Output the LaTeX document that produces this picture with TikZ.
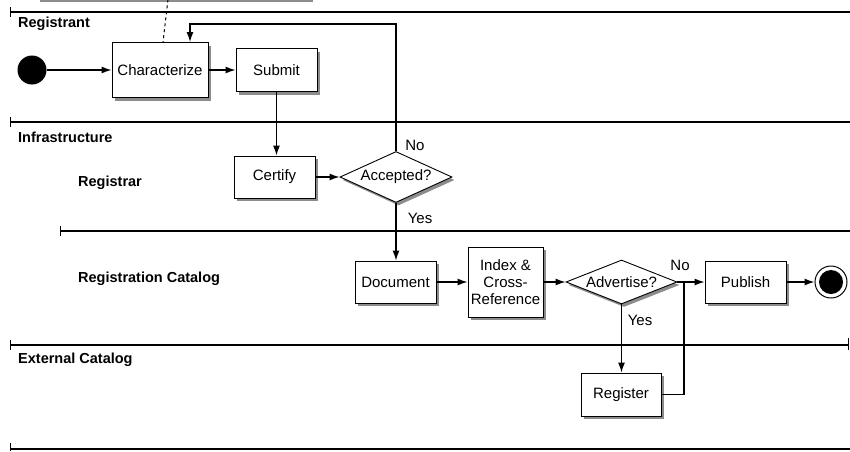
\documentclass[tikz,border=0pt]{standalone}
\usepackage{fontspec}
\setmainfont{Liberation Sans}
\usetikzlibrary{shapes.geometric,arrows.meta,shadows}
\newcommand{\fsn}{\fontsize{15}{17}\selectfont}
\newcommand{\fsb}{\fontsize{14.5}{16.5}\selectfont\bfseries}
\tikzset{
  box/.style={draw=black, line width=0.9pt, fill=white, inner sep=0pt, align=center, font=\fsn,
    drop shadow={shadow xshift=2.5pt, shadow yshift=-3pt, fill=black!45, opacity=1}},
  dec/.style={box, diamond},
  lane/.style={line width=2pt},
  lanetick/.style={line width=1pt},
  lanelbl/.style={font=\fsb, anchor=west, inner sep=0pt},
  guard/.style={font=\fsn, inner sep=0pt},
  flow/.style={line width=1.3pt, -{Latex[length=10pt,width=7pt]}},
  plainflow/.style={line width=1.3pt},
}
\begin{document}
\begin{tikzpicture}[x=1pt,y=-1pt]
\useasboundingbox (0,0) rectangle (850,451);
% swimlane separators
\draw[lane] (10,12) -- (850,12);
\draw[lanetick] (10,7) -- (10,17);
\draw[lane] (10,122) -- (850,122);
\draw[lanetick] (10,117) -- (10,127);
\draw[lane] (60,231) -- (850,231);
\draw[lanetick] (60,226) -- (60,236);
\draw[lane] (10,345) -- (848,345);
\draw[lanetick] (10,340) -- (10,350);
\draw[lanetick] (848,338) -- (848,350);
\draw[lane] (10,449) -- (850,449);
\draw[lanetick] (10,443) -- (10,451);
% lane labels
\node[lanelbl] (l1) at (18,24) {Registrant};
\node[lanelbl] (l2) at (18,137) {Infrastructure};
\node[lanelbl] (l3) at (78,183) {Registrar};
\node[lanelbl] (l4) at (78,279) {Registration Catalog};
\node[lanelbl] (l5) at (18,360) {External Catalog};
% note at top (cut off)
\node[box, minimum width=273pt, minimum height=40pt] (note) at (173.5,-21) {};
% nodes
\node[circle, fill=black, minimum size=29pt, inner sep=0pt] (start) at (32,70) {};
\node[box, minimum width=96pt, minimum height=55pt] (char) at (160,70) {Characterize};
\node[box, minimum width=81pt, minimum height=43pt] (sub) at (276.5,70) {Submit};
\node[box, minimum width=81pt, minimum height=42pt] (cert) at (274.5,177) {Certify};
\node[dec, aspect=2.2, minimum width=112pt, minimum height=51pt] (acc) at (396,177) {Accepted?};
\node[box, minimum width=81pt, minimum height=42pt] (doc) at (395.5,282) {Document};
\node[box, minimum width=75pt, minimum height=70pt] (idx) at (505.5,282) {Index \&\\Cross-\\Reference};
\node[dec, aspect=2.5, minimum width=111pt, minimum height=44pt] (adv) at (621.5,282) {Advertise?};
\node[box, minimum width=81pt, minimum height=42pt] (pub) at (745.5,282) {Publish};
\node[circle, draw=black, line width=1pt, fill=white, minimum size=32pt, inner sep=0pt] (end) at (831,282) {};
\node[circle, fill=black, minimum size=24pt, inner sep=0pt] (endin) at (831,282) {};
\node[box, minimum width=80pt, minimum height=43pt] (reg) at (621,394.5) {Register};
% connectors
\draw[dashed, line width=1pt] ([xshift=-5.5pt]note.south) -- ([xshift=3pt]char.north);
\draw[flow] (start) -- (char);
\draw[flow] (char) -- (sub);
\draw[flow] (sub.south) -- (sub.south |- cert.north);
\draw[flow] (cert) -- (acc);
\coordinate (fb) at (190,24);
\draw[flow] (acc.north) |- (fb) -- (fb |- char.north);
\draw[flow] (acc.south) -- (acc.south |- doc.north);
\draw[flow] (doc) -- (idx);
\draw[flow] (idx) -- (adv);
\draw[flow] (adv) -- (pub);
\draw[flow] (pub) -- (end);
\draw[flow] (adv.south) -- (adv.south |- reg.north);
\coordinate (jn) at (684,282);
\draw[plainflow] (reg.east) -| (jn);
% guards
\node[guard] (g1) at (415,145) {No};
\node[guard] (g2) at (420,218) {Yes};
\node[guard] (g3) at (680,265) {No};
\node[guard] (g4) at (640,320) {Yes};
\end{tikzpicture}
\end{document}
